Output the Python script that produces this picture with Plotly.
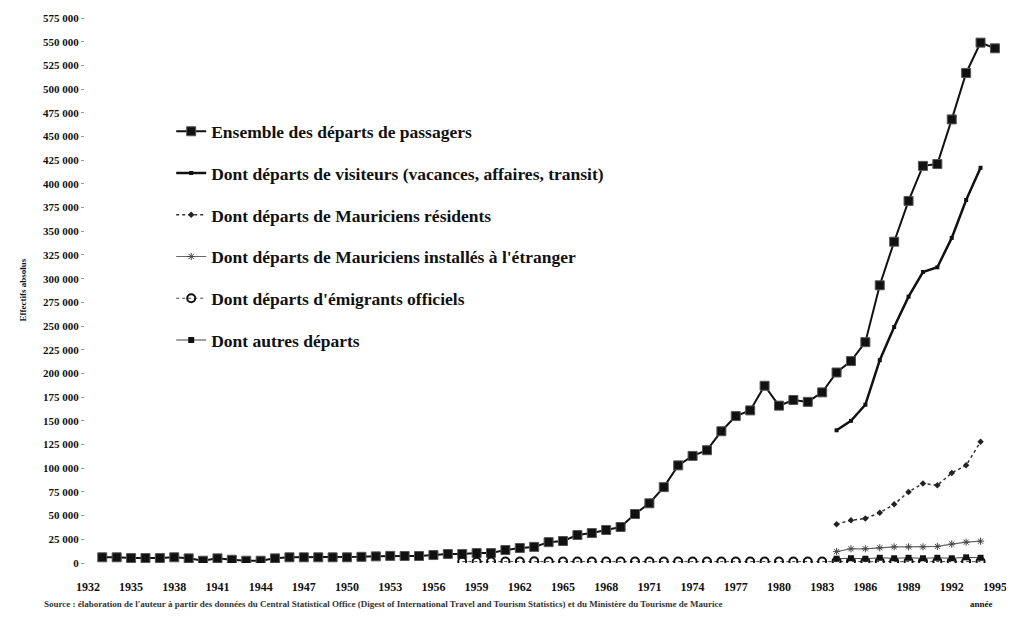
import plotly.graph_objects as go

# ---------------- data ----------------
years_total = list(range(1933, 1996))
ensemble = [6000, 6000, 5200, 5200, 5200, 6000, 4900, 2400, 4900, 3400,
            2400, 2400, 4900, 6000, 6000, 6000, 6000, 6000, 6500, 7000,
            7500, 7400, 7400, 8400, 9500, 9500, 10500, 10500, 13700, 15800,
            17000, 22000, 23200, 29500, 31600, 34800, 38000, 51700, 63000, 80000,
            103000, 113000, 119000, 139000, 155000, 161000, 187000, 166000, 172000, 170000,
            180000, 201000, 213000, 233000, 293000, 339000, 382000, 419000, 421000, 468000,
            517000, 549000, 543000]

years_detail = list(range(1984, 1995))
visiteurs = [140000, 150000, 167000, 214000, 249000, 281000, 307000, 312000, 343000, 383000, 417000]
residents = [41000, 45000, 47000, 53000, 62000, 75000, 84000, 82000, 95000, 103000, 128000]
installes = [12000, 15000, 15000, 16000, 17000, 17000, 17000, 17500, 20000, 22000, 23000]
autres = [4500, 5000, 4500, 5500, 5000, 5500, 5000, 5500, 5000, 6000, 5500]

years_emig = list(range(1958, 1995))
emigrants = [1500, 1200, 1500, 1500, 1500, 1800, 1500, 1500, 1500, 1500,
             1500, 1500, 1500, 1500, 1500, 1500, 1500, 1500, 1500, 1500,
             1500, 1500, 1500, 1500, 1500, 1500, 1800, 1500, 1500, 1500,
             1500, 1500, 1500, 1500, 1500, 1500, 1500]

x_tick_years = list(range(1932, 1996, 3))
x_tick_text = [str(y) for y in x_tick_years]
y_tick_vals = list(range(0, 575001, 25000))
y_tick_text = ["0", "25 000", "50 000", "75 000", "100 000", "125 000", "150 000",
               "175 000", "200 000", "225 000", "250 000", "275 000", "300 000",
               "325 000", "350 000", "375 000", "400 000", "425 000", "450 000",
               "475 000", "500 000", "525 000", "550 000", "575 000"]

names = ["Ensemble des départs de passagers",
         "Dont départs de visiteurs (vacances, affaires, transit)",
         "Dont départs de Mauriciens résidents",
         "Dont départs de Mauriciens installés à l'étranger",
         "Dont départs d'émigrants officiels",
         "Dont autres départs"]

SERIF = "Liberation Serif"

fig = go.Figure()
fig.add_trace(go.Scatter(x=years_total, y=ensemble, name=names[0], legendgroup="g1",
                         mode="lines+markers",
                         line=dict(color="#111111", width=2),
                         marker=dict(symbol="square", size=9, color="#111111",
                                     line=dict(color="#555555", width=1))))
fig.add_trace(go.Scatter(x=years_detail, y=visiteurs, name=names[1], legendgroup="g2",
                         mode="lines+markers",
                         line=dict(color="#111111", width=2.5),
                         marker=dict(symbol="square", size=4, color="#111111")))
fig.add_trace(go.Scatter(x=years_detail, y=residents, name=names[2], legendgroup="g3",
                         mode="lines+markers",
                         line=dict(color="#333333", width=1.5, dash="dot"),
                         marker=dict(symbol="diamond", size=5, color="#222222")))
fig.add_trace(go.Scatter(x=years_detail, y=installes, name=names[3], legendgroup="g4",
                         mode="lines+markers",
                         line=dict(color="#666666", width=1.2),
                         marker=dict(symbol="asterisk-open", size=6, color="#444444",
                                     line=dict(color="#444444", width=1))))
fig.add_trace(go.Scatter(x=years_emig, y=emigrants, name=names[4], legendgroup="g5",
                         mode="lines+markers",
                         line=dict(color="#444444", width=1, dash="dot"),
                         marker=dict(symbol="circle-open", size=8, color="#111111",
                                     line=dict(color="#111111", width=2))))
fig.add_trace(go.Scatter(x=years_detail, y=autres, name=names[5], legendgroup="g6",
                         mode="lines+markers",
                         line=dict(color="#444444", width=1),
                         marker=dict(symbol="square", size=6, color="#111111")))

fig.update_layout(
    width=998, height=602,
    margin=dict(l=77, r=4, t=10, b=47),
    paper_bgcolor="white", plot_bgcolor="white",
    font=dict(family=SERIF, color="#111111"),
    showlegend=True,
    legend=dict(x=0.094, y=0.825, xanchor="left", yanchor="top",
                bgcolor="rgba(0,0,0,0)", tracegroupgap=16,
                font=dict(family=SERIF, size=17.5, color="#111111", weight="bold"),
                itemwidth=30),
    xaxis=dict(range=[1931.8, 1995.49], tickmode="array",
               tickvals=x_tick_years, ticktext=x_tick_text,
               showgrid=False, zeroline=False, showline=False, automargin=False,
               ticklabeloverflow="allow",
               ticks="outside", ticklen=13, tickcolor="rgba(0,0,0,0)",
               tickfont=dict(family=SERIF, size=12, color="#111111", weight="bold")),
    yaxis=dict(range=[0, 575000], tickmode="array",
               tickvals=y_tick_vals, ticktext=y_tick_text,
               showgrid=False, zeroline=False, showline=False, automargin=False,
               ticklabeloverflow="allow",
               ticks="outside", ticklen=3, tickcolor="#999999",
               tickfont=dict(family=SERIF, size=11, color="#111111", weight="bold")),
    annotations=[
        dict(text="Effectifs absolus", xref="paper", yref="paper", x=-0.0687, y=0.5,
             xanchor="center", yanchor="middle", textangle=-90, showarrow=False,
             font=dict(family=SERIF, size=9, color="#111111", weight="bold")),
        dict(text="année", xref="paper", yref="paper", x=0.978, y=-0.0752,
             xanchor="center", yanchor="middle", showarrow=False,
             font=dict(family=SERIF, size=9, color="#111111", weight="bold")),
        dict(text="Source : élaboration de l'auteur à partir des données du Central Statistical Office "
                  "(Digest of International Travel and Tourism Statistics) et du Ministère du Tourisme de Maurice",
             xref="paper", yref="paper", x=-0.0469, y=-0.0752, xanchor="left", yanchor="middle",
             showarrow=False,
             font=dict(family=SERIF, size=9, color="#333333", weight="bold")),
    ],
)

fig.write_html("out.html")
